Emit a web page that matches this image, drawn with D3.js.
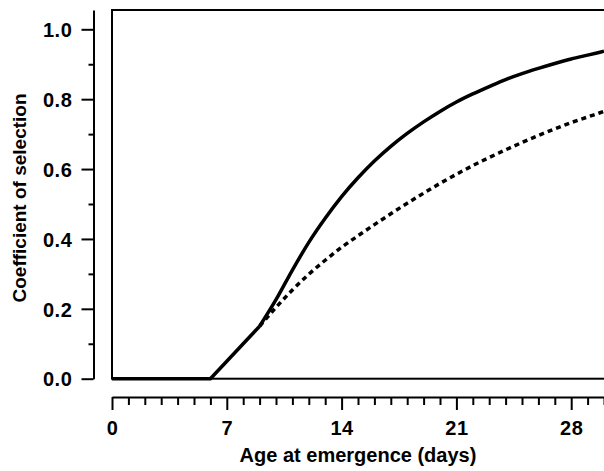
<!DOCTYPE html>
<html>
<head>
<meta charset="utf-8">
<script src="https://cdn.jsdelivr.net/npm/d3@7/dist/d3.min.js"></script>
<style>
  html, body { margin: 0; padding: 0; background: #fff; overflow: hidden; }
  svg { display: block; }
  text { font-family: "Liberation Sans", Arial, Helvetica, sans-serif; font-weight: bold; fill: #000; }
</style>
</head>
<body>
<svg id="chart" width="604" height="471"></svg>
<script>
// ---- data ----
const days = [0,1,2,3,4,5,6,7,8,9,10,11,12,13,14,15,16,17,18,19,20,21,22,23,24,25,26,27,28,29,30];
const solidValues = [0,0,0,0,0,0,0,0.050,0.100,0.150,0.226,0.311,0.390,0.459,0.521,0.575,0.623,0.665,0.702,0.735,0.765,0.792,0.815,0.836,0.856,0.873,0.888,0.902,0.915,0.926,0.937];
const dottedDays = [9,10,11,12,13,14,15,16,17,18,19,20,21,22,23,24,25,26,27,28,29,30];
const dottedValues = [0.150,0.204,0.254,0.299,0.339,0.376,0.409,0.441,0.472,0.502,0.531,0.559,0.585,0.610,0.633,0.655,0.676,0.696,0.715,0.733,0.749,0.765];
const kinkDay = 9;
const xMajorTicks = [0,7,14,21,28];
const xMinorTicks = d3.range(0,31,1);
const yMajorTicks = [0,0.2,0.4,0.6,0.8,1.0];
const yMinorTicks = [0.1,0.3,0.5,0.7,0.9];
const xTitle = "Age at emergence (days)";
const yTitle = "Coefficient of selection";

// ---- layout ----
const svg = d3.select("#chart");
const plotLeft = 112, plotRight = 604, plotTop = 10, plotBottom = 378.7;
const x = d3.scaleLinear().domain([0,30]).range([plotLeft, plotRight]);
const yTopValue = (plotBottom - plotTop) / (plotBottom - 29.3);
const y = d3.scaleLinear().domain([0, yTopValue]).range([plotBottom, plotTop]);

// plot frame
svg.append("rect")
  .attr("x", plotLeft).attr("y", plotTop)
  .attr("width", plotRight - plotLeft + 20).attr("height", plotBottom - plotTop)
  .attr("fill", "none").attr("stroke", "#000").attr("stroke-width", 2);

// y axis (offset)
const yAxisX = 93.5;
const gy = svg.append("g").attr("transform", `translate(${yAxisX},0)`);
gy.call(d3.axisLeft(y).tickValues(yMinorTicks).tickSize(5).tickFormat(""));
gy.call(g => g.select(".domain").remove());
const gy2 = svg.append("g").attr("transform", `translate(${yAxisX},0)`);
gy2.call(d3.axisLeft(y).tickValues(yMajorTicks).tickSize(12).tickSizeOuter(0).tickPadding(9).tickFormat(d3.format(".1f")));
gy2.select(".domain").attr("stroke-width", 2);
gy2.selectAll("text").style("font-size", "20px").style("letter-spacing", "0.6px").attr("dy", "0.36em");

// x axis (offset)
const xAxisY = 397;
const gx = svg.append("g").attr("transform", `translate(0,${xAxisY})`);
gx.call(d3.axisBottom(x).tickValues(xMinorTicks.filter(d => !xMajorTicks.includes(d))).tickSize(8).tickFormat(""));
gx.call(g => g.select(".domain").remove());
const gx2 = svg.append("g").attr("transform", `translate(0,${xAxisY})`);
gx2.call(d3.axisBottom(x).tickValues(xMajorTicks).tickSize(13).tickSizeOuter(0).tickPadding(11).tickFormat(d3.format("d")));
gx2.select(".domain").attr("stroke-width", 2);
gx2.selectAll("text").style("font-size", "20px").style("letter-spacing", "0.6px");
svg.selectAll(".tick line").attr("stroke-width", 2);

// titles
svg.append("text").attr("x", 358).attr("y", 462).attr("text-anchor", "middle")
  .style("font-size", "20px").text(xTitle);
svg.append("text").attr("transform", "translate(26,198) rotate(-90)").attr("text-anchor", "middle")
  .style("font-size", "19px").text(yTitle);

// curves
const solidPts = days.map((d,i) => [d, solidValues[i]]);
const dottedPts = dottedDays.map((d,i) => [d, dottedValues[i]]);
const linGen = d3.line().x(d => x(d[0])).y(d => y(d[1])).curve(d3.curveLinear);
const smoothGen = d3.line().x(d => x(d[0])).y(d => y(d[1])).curve(d3.curveMonotoneX);
svg.append("clipPath").attr("id", "clip").append("rect")
  .attr("x", plotLeft).attr("y", plotTop - 5).attr("width", plotRight - plotLeft).attr("height", plotBottom - plotTop + 10);
const curves = svg.append("g").attr("clip-path", "url(#clip)");
curves.append("path").attr("d", smoothGen(dottedPts))
  .attr("fill", "none").attr("stroke", "#000").attr("stroke-width", 3.5).attr("stroke-dasharray", "5,4");
curves.append("path").attr("d", linGen(solidPts.filter(p => p[0] <= kinkDay)))
  .attr("fill", "none").attr("stroke", "#000").attr("stroke-width", 3.5).attr("stroke-linejoin", "miter");
curves.append("path").attr("d", smoothGen(solidPts.filter(p => p[0] >= kinkDay)))
  .attr("fill", "none").attr("stroke", "#000").attr("stroke-width", 3.5);
</script>
</body>
</html>
